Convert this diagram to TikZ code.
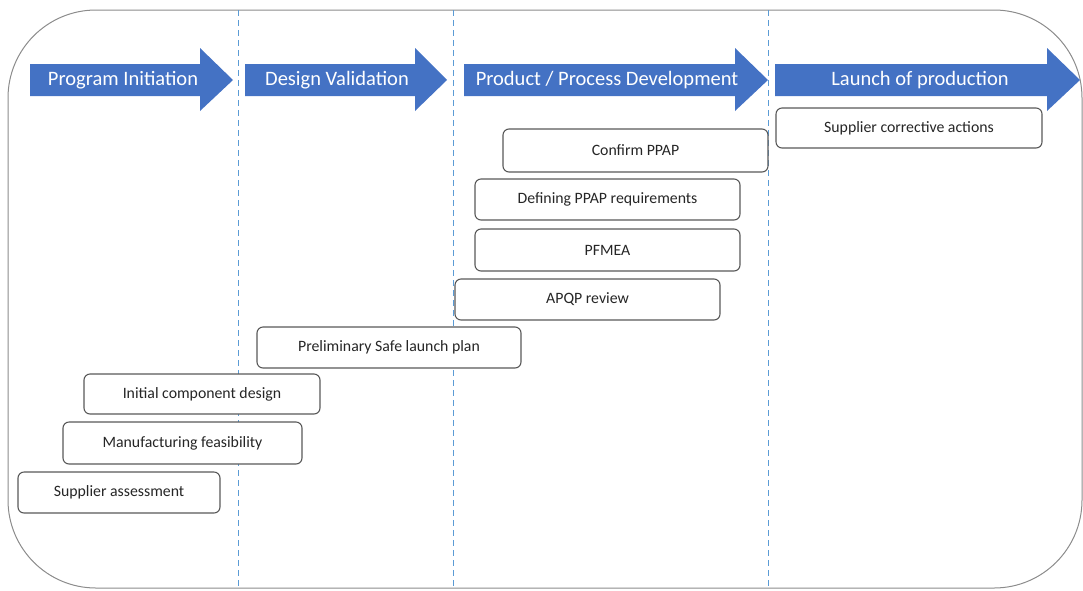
\documentclass[tikz,border=0pt]{standalone}
\usepackage{fontspec}
\setmainfont{Carlito}
\definecolor{phaseblue}{HTML}{4472C4}
\definecolor{guide}{HTML}{5B9BD5}
\definecolor{frame}{HTML}{8C8C8C}
\definecolor{boxline}{HTML}{595959}
\definecolor{ink}{HTML}{262626}
% #1 name, #2 tail x, #3 head start x, #4 tip x, #5 label x, #6 label
\newcommand{\phasearrow}[6]{%
  \fill[phaseblue] (#2,64) -- (#3,64) -- (#3,48) -- (#4,80) -- (#3,111)
    -- (#3,96) -- (#2,96) -- cycle;
  \node[phaselabel] (#1) at (#5,80) {#6};}
\begin{document}
\begin{tikzpicture}[x=1pt,y=-1pt,
  phaselabel/.style={text=white,font=\fontsize{20.5}{24}\selectfont,inner sep=0pt},
  task/.style={draw=boxline,line width=1.1pt,rounded corners=6pt,fill=white,
    text=ink,font=\fontsize{15.8}{18}\selectfont,inner sep=0pt},
  guideline/.style={draw=guide,line width=1pt,dash pattern=on 6pt off 4pt}]
\useasboundingbox (0,0) rectangle (1083,590);
% outer frame
\draw[frame,line width=1pt,rounded corners=88pt] (8,10) rectangle (1082,588);
% phase separators
\foreach \gx/\gn in {238/g1,453/g2,768/g3}{
  \coordinate (\gn top) at (\gx,10);
  \coordinate (\gn bot) at (\gx,588);
  \draw[guideline] (\gn top) -- (\gn bot);}
% phase arrows
\phasearrow{p1}{30}{200}{233}{123}{Program Initiation}
\phasearrow{p2}{245}{415}{447}{337}{Design Validation}
\phasearrow{p3}{464}{735}{768}{607}{Product / Process Development}
\phasearrow{p4}{775}{1047}{1080}{920}{Launch of production}
% activities
\newcommand{\task}[6]{%
  \node[task,minimum width=#4-#2,minimum height=#5-#3]
    (#1) at ({(#2+#4)/2},{(#3+#5)/2}) {#6};}
\task{scorr}{776}{108}{1042}{148}{Supplier corrective actions}
\task{cppap}{503}{129}{768}{172}{Confirm PPAP}
\task{dppap}{475}{179}{740}{220}{Defining PPAP requirements}
\task{pfmea}{475}{229}{740}{271}{PFMEA}
\task{apqp}{455}{279}{720}{320}{APQP review}
\task{safe}{257}{327}{521}{368}{Preliminary Safe launch plan}
\task{icd}{84}{374}{320}{414}{Initial component design}
\task{mfeas}{63}{422}{302}{464}{Manufacturing feasibility}
\task{sass}{18}{472}{220}{513}{Supplier assessment}
\end{tikzpicture}
\end{document}
